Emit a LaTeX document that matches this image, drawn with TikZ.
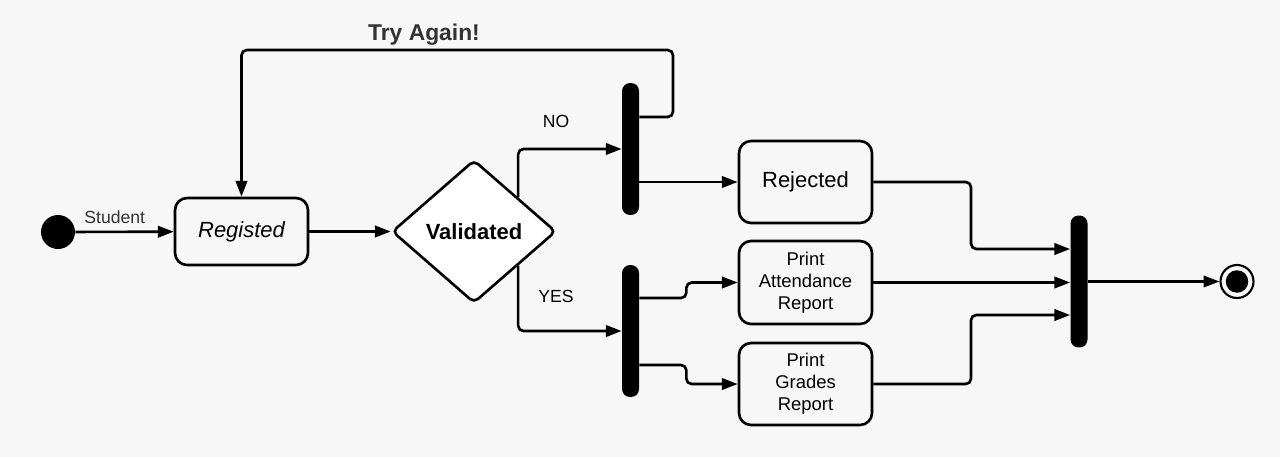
\documentclass[tikz,border=0pt]{standalone}
\usepackage{fontspec}
\setmainfont{Liberation Sans}
\usetikzlibrary{arrows.meta,calc,shapes.geometric}
\definecolor{bgcolor}{HTML}{F7F7F7}
\definecolor{labelgray}{HTML}{333333}
\tikzset{
	flow/.style={line width=1.5pt, -{Triangle[length=9pt,width=6.5pt]}, rounded corners=3pt},
	state/.style={draw, line width=1.5pt, rounded corners=0.24cm, fill=bgcolor, minimum width=2.66cm, align=center, font=\fontsize{10.5}{12.5}\selectfont},
	syncbar/.style={fill=black, rounded corners=0.16cm, minimum width=0.34cm, minimum height=2.64cm, inner sep=0pt},
	labeltext/.style={font=\fontsize{10}{12}\selectfont, inner sep=1pt},
}

\begin{document}
\begin{tikzpicture}[x=0.02cm, y=-0.02cm]
			%%%%% START %%%%%
			
			\useasboundingbox (0, 0) rectangle (1280, 457);
			\fill[bgcolor] (0, 0) rectangle (1280, 457);
			
			\node[circle, fill=black, minimum size=0.68cm, inner sep=0pt] (start) at (58, 232) {};
			\node[state, minimum height=1.34cm, font=\itshape\fontsize{12.5}{15}\selectfont] (reg) at (241.5, 231.5) {Registed};
			\node[diamond, draw, line width=1.5pt, fill=white, rounded corners=3pt, minimum width=3.28cm, minimum height=2.86cm, inner sep=0pt, font=\bfseries\fontsize{12.5}{15}\selectfont] (val) at (474, 231.5) {Validated};
			
			\node[syncbar] (bar1) at (630.5, 149) {};
			\node[syncbar] (bar2) at (630.5, 331) {};
			\node[syncbar] (bar3) at (1079, 281.5) {};
			
			\node[state, minimum height=1.64cm, font=\fontsize{12.5}{15}\selectfont] (rej) at (805.5, 182) {Rejected};
			\node[state, minimum height=1.66cm] (att) at (805.5, 282.5) {Print\\Attendance\\Report};
			\node[state, minimum height=1.64cm] (grd) at (805.5, 384) {Print\\Grades\\Report};
			
			\node[circle, draw, line width=1.2pt, minimum size=0.66cm, inner sep=0pt] (end) at (1237, 281.5) {};
			\fill (end) circle (0.225cm);
			
			\coordinate (loopcorner) at (673, 50);
			\coordinate (jointop) at (971, 249);
			\coordinate (joinbot) at (971, 315);
			
			\draw[flow] (start) -- node[labeltext, text=labelgray, above=3pt, pos=0.4] (studentlbl) {Student} (reg);
			\draw[flow] (reg) -- (val);
			\draw[flow] ($(val.north)!0.53!(val.east)$) |- (bar1);
			\draw[flow] ($(val.south)!0.53!(val.east)$) |- (bar2);
			\node[labeltext] (nolbl) at (556, 121) {NO};
			\node[labeltext] (yeslbl) at (556, 296) {YES};
			
			\draw[flow] ($(bar1.east)+(0, -32)$) -| (loopcorner) -| (reg);
			\node[text=labelgray, font=\bfseries\fontsize{13}{15}\selectfont] (retrylbl) at (424, 35) {Try Again!};
			
			\draw[flow] (bar1.east |- rej) -- (rej);
			\draw[flow] ($(bar2.east)+(0, -33)$) -- ($(bar2.east)+(47, -33)$) |- (att);
			\draw[flow] ($(bar2.east)+(0, 34)$) -- ($(bar2.east)+(47, 34)$) |- (grd);
			
			\draw[flow] (rej) -| (jointop) -- (bar3.west |- jointop);
			\draw[flow] (att) -- (bar3.west |- att);
			\draw[flow] (grd) -| (joinbot) -- (bar3.west |- joinbot);
			\draw[flow, line width=1.2pt] (bar3) -- (end);
			
			%%%%% END %%%%%
		\end{tikzpicture}
\end{document}
